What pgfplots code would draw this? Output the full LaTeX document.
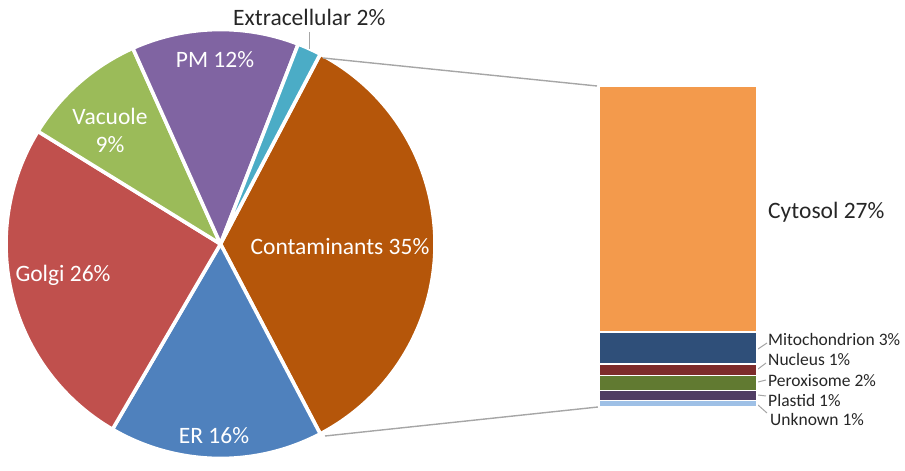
\documentclass[border=0pt]{standalone}
\usepackage{pgfplots}
\pgfplotsset{compat=1.18}
\usepackage{fontspec}
\setmainfont{Carlito}
\definecolor{contam}{HTML}{B5560A}
\definecolor{er}{HTML}{4F81BD}
\definecolor{golgi}{HTML}{C0504D}
\definecolor{vacuole}{HTML}{9BBB59}
\definecolor{pm}{HTML}{8064A2}
\definecolor{extra}{HTML}{4BACC6}
\definecolor{cytosol}{HTML}{F39A4C}
\definecolor{mito}{HTML}{2F4F79}
\definecolor{nucleus}{HTML}{7D2B2B}
\definecolor{perox}{HTML}{617A31}
\definecolor{plastid}{HTML}{4F3C63}
\definecolor{unknown}{HTML}{9EC0E6}
\definecolor{leader}{HTML}{A6A6A6}
\begin{document}
\begin{tikzpicture}
% pie values (percent)
\def\vContam{34.6}\def\vER{16.1}\def\vGolgi{25.4}\def\vVac{9.5}\def\vPM{12.6}\def\vExt{1.8}
\pgfmathsetmacro\aA{3.6*\vContam/2}
\pgfmathsetmacro\aB{\aA-3.6*\vContam}
\pgfmathsetmacro\aC{\aB-3.6*\vER}
\pgfmathsetmacro\aD{\aC-3.6*\vGolgi}
\pgfmathsetmacro\aE{\aD-3.6*\vVac}
\pgfmathsetmacro\aF{\aE-3.6*\vPM}
\pgfmathsetmacro\aG{\aF-3.6*\vExt}
\def\R{214.5pt}
\tikzset{big/.style={font=\fontsize{23.5}{28}\selectfont, inner sep=0},
  small/.style={font=\fontsize{17.5}{21}\selectfont, inner sep=0, anchor=west, text=black!85}}
\begin{axis}[at={(0,0)}, anchor=south west, scale only axis, width=905pt, height=458pt,
  xmin=0, xmax=905, ymin=0, ymax=458, hide axis, clip=false]
\path (axis cs:0,0) rectangle (axis cs:905,458);
\tikzset{slice/.style={draw=white, line width=3.6pt, line join=round}}
\fill[slice, fill=contam] (axis cs:220.5,214) -- ++(\aA:\R) arc[start angle=\aA, end angle=\aB, radius=\R] -- cycle;
\fill[slice, fill=er] (axis cs:220.5,214) -- ++(\aB:\R) arc[start angle=\aB, end angle=\aC, radius=\R] -- cycle;
\fill[slice, fill=golgi] (axis cs:220.5,214) -- ++(\aC:\R) arc[start angle=\aC, end angle=\aD, radius=\R] -- cycle;
\fill[slice, fill=vacuole] (axis cs:220.5,214) -- ++(\aD:\R) arc[start angle=\aD, end angle=\aE, radius=\R] -- cycle;
\fill[slice, fill=pm] (axis cs:220.5,214) -- ++(\aE:\R) arc[start angle=\aE, end angle=\aF, radius=\R] -- cycle;
\fill[slice, fill=extra] (axis cs:220.5,214) -- ++(\aF:\R) arc[start angle=\aF, end angle=\aG, radius=\R] -- cycle;
% connectors
\draw[leader, line width=1.4pt] (axis cs:323,400) -- (axis cs:597,372);
\draw[leader, line width=1.4pt] (axis cs:325,22) -- (axis cs:598,51);
\draw[leader, line width=1pt] (axis cs:309,426) -- (axis cs:309,409);
% small leaders
\draw[leader, line width=1pt] (axis cs:758,109) -- (axis cs:767,115);
\draw[leader, line width=1pt] (axis cs:758,89) -- (axis cs:766,95);
\draw[leader, line width=1pt] (axis cs:758,76) -- (axis cs:766,78);
\draw[leader, line width=1pt] (axis cs:758,63) -- (axis cs:766,62);
\draw[leader, line width=1pt] (axis cs:758,53) -- (axis cs:767,45);
% labels
\node[big, anchor=base west, text=black!85] at (axis cs:233,432) {Extracellular 2\%};
\node[big, text=white] at (axis cs:215,398) {PM 12\%};
\node[big, text=white] at (axis cs:110,342) {Vacuole};
\node[big, text=white] at (axis cs:110,313) {9\%};
\node[big, text=white] at (axis cs:63,183) {Golgi 26\%};
\node[big, text=white] at (axis cs:214,22) {ER 16\%};
\node[big, text=white] at (axis cs:340,211) {Contaminants 35\%};
\node[big, anchor=west, text=black!85] at (axis cs:768,246) {Cytosol 27\%};
\node[small] at (axis cs:768,119) {Mitochondrion 3\%};
\node[small] at (axis cs:768,99) {Nucleus 1\%};
\node[small] at (axis cs:768,77) {Peroxisome 2\%};
\node[small] at (axis cs:768,58) {Plastid 1\%};
\node[small] at (axis cs:770,39) {Unknown 1\%};
\end{axis}
\begin{axis}[at={(599pt,51pt)}, anchor=south west, scale only axis, width=158pt, height=321pt,
  xmin=-1, xmax=1, ymin=0, ymax=35, hide axis, clip=false,
  ybar stacked, bar width=158pt]
\addplot[fill=unknown, draw=white, line width=1.6pt] coordinates {(0,0.7)};
\addplot[fill=plastid, draw=white, line width=1.6pt] coordinates {(0,1.1)};
\addplot[fill=perox, draw=white, line width=1.6pt] coordinates {(0,1.65)};
\addplot[fill=nucleus, draw=white, line width=1.6pt] coordinates {(0,1.25)};
\addplot[fill=mito, draw=white, line width=1.6pt] coordinates {(0,3.5)};
\addplot[fill=cytosol, draw=white, line width=1.6pt] coordinates {(0,26.8)};
\end{axis}
\end{tikzpicture}
\end{document}
